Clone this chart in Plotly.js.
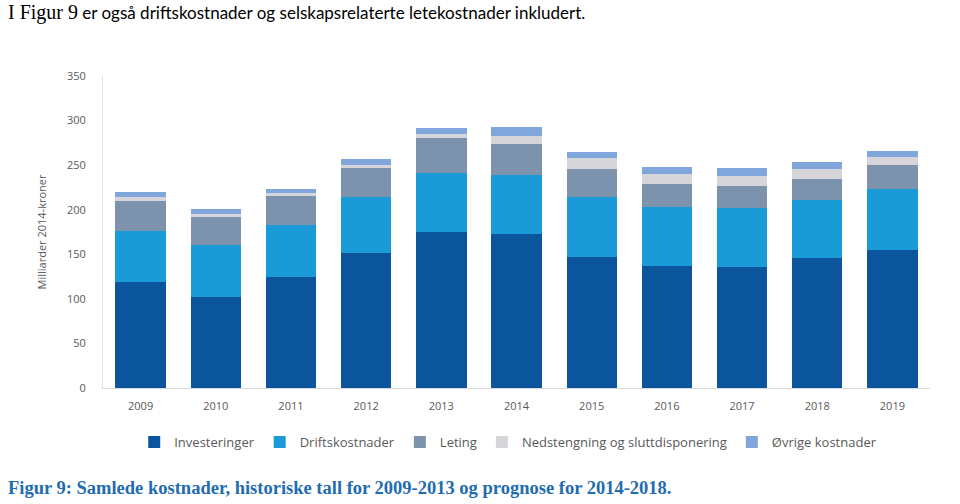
<!DOCTYPE html>
<html>
<head>
<meta charset="utf-8">
<script src="https://cdn.plot.ly/plotly-3.0.1.min.js"></script>
<style>html,body{margin:0;padding:0;background:#fff;}#chart{width:960px;height:504px;}</style>
</head>
<body>
<div id="chart"></div>
<script>
const years = ["2009","2010","2011","2012","2013","2014","2015","2016","2017","2018","2019"];
const investeringer = [118.6, 102.4, 124.2, 151.1, 175.3, 172.4, 146.6, 137.2, 135.4, 145.5, 154.8];
const driftskostnader = [57.9, 58.0, 58.3, 63.5, 65.5, 66.6, 68.0, 66.2, 66.9, 65.4, 68.1];
const leting = [33.6, 31.1, 33.2, 31.9, 40.0, 34.4, 30.7, 25.1, 24.3, 23.2, 27.3];
const nedstengning = [3.8, 3.7, 2.7, 3.7, 4.2, 9.7, 12.4, 11.2, 11.2, 11.2, 9.3];
const ovrige = [6.3, 5.6, 5.2, 6.7, 6.3, 10.0, 7.4, 7.9, 8.7, 7.9, 6.7];
const yTicks = [0, 50, 100, 150, 200, 250, 300, 350];

const series = [
  {name: "Investeringer", y: investeringer, color: "#0b559c"},
  {name: "Driftskostnader", y: driftskostnader, color: "#1b9ad8"},
  {name: "Leting", y: leting, color: "#7d93ad"},
  {name: "Nedstengning og sluttdisponering", y: nedstengning, color: "#d6d6da"},
  {name: "Øvrige kostnader", y: ovrige, color: "#80a6dc"}
];

const traces = series.map(s => ({
  type: "bar", x: years, y: s.y, name: s.name,
  marker: {color: s.color, line: {width: 0}},
  hoverinfo: "y+name"
}));

const layout = {
  width: 960, height: 504,
  barmode: "stack", bargap: 0.33,
  paper_bgcolor: "#ffffff", plot_bgcolor: "#ffffff",
  margin: {l: 103, r: 30, t: 76, b: 116},
  font: {family: "Open Sans, sans-serif", color: "#595959", size: 11},
  xaxis: {
    type: "category", showgrid: false, zeroline: false,
    showline: true, linecolor: "#d9d9d9", linewidth: 1,
    ticks: "", tickfont: {size: 11, color: "#595959"}, ticklabelstandoff: 8
  },
  yaxis: {
    range: [0, 350], tickvals: yTicks, showgrid: false, zeroline: false,
    showline: true, linecolor: "#e3e3e3", linewidth: 1, ticks: "",
    tickfont: {size: 11, color: "#595959"}, ticklabelstandoff: 14,
    title: {text: "Milliarder 2014-kroner", font: {size: 11, color: "#595959"}, standoff: 18}
  },
  showlegend: true,
  legend: {
    orientation: "h", x: 0.49, xanchor: "center", xref: "paper",
    y: -0.125, yanchor: "top", font: {size: 13, color: "#595959"},
    itemwidth: 30, traceorder: "normal", tracegroupgap: 0
  },
  annotations: [
    {xref: "paper", yref: "paper", x: -0.117, y: 1.205, xanchor: "left", yanchor: "middle", showarrow: false,
     text: "<span style='font-family:Liberation Serif;font-size:20px;'>I Figur 9</span> er også driftskostnader og selskapsrelaterte letekostnader inkludert.",
     font: {family: "Lato, sans-serif", size: 17, color: "#000000"}},
    {xref: "paper", yref: "paper", x: -0.117, y: -0.32, xanchor: "left", yanchor: "middle", showarrow: false,
     text: "<b>Figur 9: Samlede kostnader, historiske tall for 2009-2013 og prognose for 2014-2018.</b>",
     font: {family: "Liberation Serif, serif", size: 18.5, color: "#1f6cb0"}}
  ]
};

Plotly.newPlot("chart", traces, layout, {displayModeBar: false, staticPlot: true});
</script>
</body>
</html>
